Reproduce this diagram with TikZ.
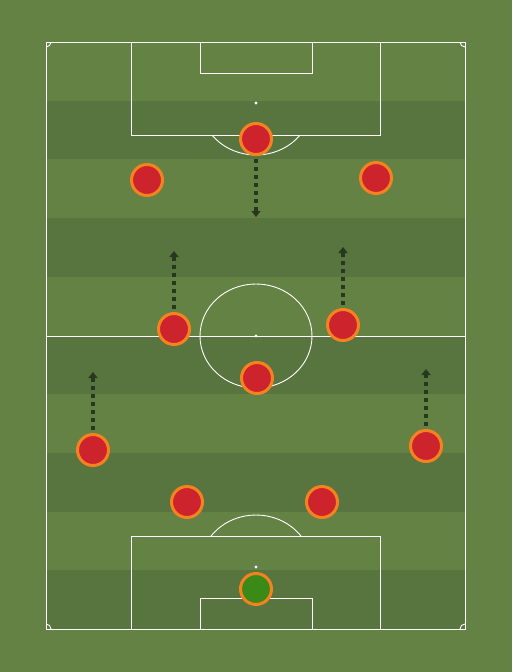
\documentclass[tikz,border=0pt]{standalone}
\usetikzlibrary{arrows.meta,shadows}
\definecolor{grasslight}{HTML}{638243}
\definecolor{grassdark}{HTML}{58753F}
\definecolor{shirtred}{HTML}{CC232C}
\definecolor{rimorange}{HTML}{F5821F}
\definecolor{keepergreen}{HTML}{3B8A17}
\definecolor{runcolor}{HTML}{283720}
\tikzset{
  player/.style={circle, fill=shirtred, draw=rimorange, line width=3pt,
    minimum size=31pt, inner sep=0pt,
    drop shadow={opacity=0.25, shadow xshift=0.6pt, shadow yshift=-1.2pt}},
  keeper/.style={player, fill=keepergreen},
  pitchline/.style={draw=white, line width=0.9pt},
  run/.style={draw=runcolor, line width=3.4pt, dash pattern=on 4pt off 4pt,
    shorten <=3pt, -{Triangle[length=6pt,width=9pt]}}
}
\begin{document}
\begin{tikzpicture}[x=1pt,y=-1pt]
        \useasboundingbox (0,0) rectangle (512,672);
        \fill[grasslight] (0,0) rectangle (512,672);
        % stripes
        \foreach \k in {1,3,5,7,9}
            \fill[grassdark] (46,{42+\k*58.7}) rectangle (465,{42+(\k+1)*58.7});
        % lines
        \draw[pitchline] (46,42) rectangle (465,629);
        \draw[pitchline] (46,336) -- (465,336);
        \draw[pitchline] (256,336) ellipse [x radius=56, y radius=52];
        \draw[pitchline] (131,42) rectangle (380,135);
        \draw[pitchline] (200,42) rectangle (312,73);
        \draw[pitchline] (131,629) rectangle (380,536);
        \draw[pitchline] (200,629) rectangle (312,598);
        \begin{scope}
            \clip (0,135) rectangle (512,200);
            \draw[pitchline] (256,103) ellipse [x radius=56, y radius=52];
        \end{scope}
        \begin{scope}
            \clip (0,470) rectangle (512,536);
            \draw[pitchline] (256,567) ellipse [x radius=56, y radius=52];
        \end{scope}
        \begin{scope}
            \clip (46,42) rectangle (465,629);
            \foreach \cx/\cy in {46/42,465/42,46/629,465/629}
                \draw[pitchline] (\cx,\cy) circle [radius=5];
        \end{scope}
        \foreach \sy in {103,336,567}
            \fill[white] (256,\sy) circle [radius=1.6];
        % players
        \node[player] (striker) at (256,139) {};
        \node[player] (lw) at (147,180) {};
        \node[player] (rw) at (376,178) {};
        \node[player] (lcm) at (174,329) {};
        \node[player] (rcm) at (343,325) {};
        \node[player] (dm) at (257,378) {};
        \node[player] (lwb) at (93,450) {};
        \node[player] (rwb) at (426,446) {};
        \node[player] (lcb) at (187,502) {};
        \node[player] (rcb) at (322,502) {};
        \node[keeper] (gk) at (256,589) {};
        % runs
        \coordinate (striker run) at (256,217);
        \coordinate (lcm run) at (174,251);
        \coordinate (rcm run) at (343,247);
        \coordinate (lwb run) at (93,372);
        \coordinate (rwb run) at (426,369);
        \foreach \p in {striker,lcm,rcm,lwb,rwb}
            \draw[run] (\p) -- (\p\space run);
\end{tikzpicture}
\end{document}
